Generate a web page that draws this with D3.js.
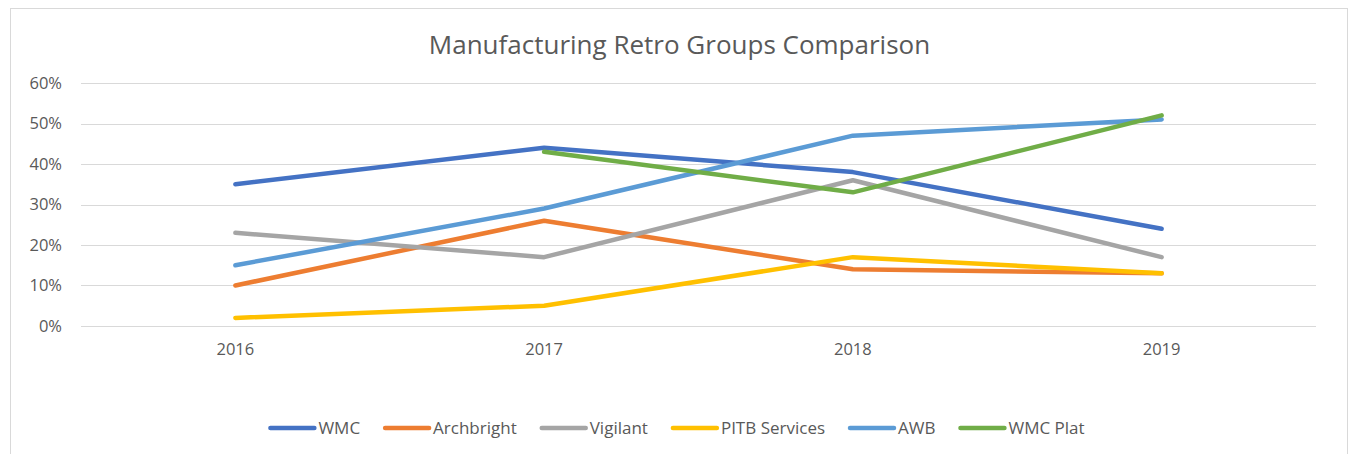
<!DOCTYPE html>
<html>
<head>
<meta charset="utf-8">
<script src="https://cdn.jsdelivr.net/npm/d3@7"></script>
<style>
  body { margin: 0; background: #fff; }
  svg text { font-family: "Open Sans", "Liberation Sans", sans-serif; fill: #595959; }
</style>
</head>
<body>
<div id="chart"></div>
<script>
// chart data
const years = ["2016", "2017", "2018", "2019"];
const seriesNames = ["WMC", "Archbright", "Vigilant", "PITB Services", "AWB", "WMC Plat"];
const wmc = [0.35, 0.44, 0.38, 0.24];
const archbright = [0.10, 0.26, 0.14, 0.13];
const vigilant = [0.23, 0.17, 0.36, 0.17];
const pitb = [0.02, 0.05, 0.17, 0.13];
const awb = [0.15, 0.29, 0.47, 0.51];
const wmcPlat = [null, 0.43, 0.33, 0.52];
const yTicks = [0, 0.1, 0.2, 0.3, 0.4, 0.5, 0.6];
const colors = ["#4472C4", "#ED7D31", "#A5A5A5", "#FFC000", "#5B9BD5", "#70AD47"];

const allSeries = [wmc, archbright, vigilant, pitb, awb, wmcPlat];

const W = 1349, H = 454;
const MARGIN = { TOP: 83, BOTTOM: 128, LEFT: 81, RIGHT: 33 };

const svg = d3.select("#chart").append("svg")
    .attr("width", W).attr("height", H);

// outer chart frame
svg.append("rect")
    .attr("x", 10.5).attr("y", 8.5)
    .attr("width", W - 12).attr("height", H + 10)
    .attr("fill", "none").attr("stroke", "#d9d9d9");

const x = d3.scaleBand()
    .domain(years)
    .range([MARGIN.LEFT, W - MARGIN.RIGHT]);

const y = d3.scaleLinear()
    .domain([0, 0.6])
    .range([H - MARGIN.BOTTOM, MARGIN.TOP]);

// gridlines
svg.append("g")
    .selectAll("line").data(yTicks).join("line")
    .attr("x1", MARGIN.LEFT).attr("x2", W - MARGIN.RIGHT)
    .attr("y1", d => Math.round(y(d)) + 0.5).attr("y2", d => Math.round(y(d)) + 0.5)
    .attr("stroke", "#d9d9d9").attr("stroke-width", 1);

// y axis labels
const yAxis = d3.axisLeft(y).tickValues(yTicks).tickFormat(d3.format(".0%")).tickSize(0).tickPadding(19);
svg.append("g")
    .attr("transform", `translate(${MARGIN.LEFT},0)`)
    .call(yAxis)
    .call(g => g.select(".domain").remove())
    .selectAll("text")
    .style("font-size", "16.5px");

// x axis labels
const xAxis = d3.axisBottom(x).tickSize(0).tickPadding(17);
svg.append("g")
    .attr("transform", `translate(0,${H - MARGIN.BOTTOM})`)
    .call(xAxis)
    .call(g => g.select(".domain").remove())
    .selectAll("text")
    .style("font-size", "16.5px");

// lines
const line = d3.line()
    .defined(d => d != null)
    .x((d, i) => x(years[i]) + x.bandwidth() / 2)
    .y(d => y(d));

svg.append("g")
    .selectAll("path").data(allSeries).join("path")
    .attr("d", d => line(d))
    .attr("fill", "none")
    .attr("stroke", (d, i) => colors[i])
    .attr("stroke-width", 4.5)
    .attr("stroke-linecap", "round")
    .attr("stroke-linejoin", "round");

// title
svg.append("text")
    .attr("x", (10 + W) / 2).attr("y", 54)
    .attr("text-anchor", "middle")
    .style("font-size", "26px")
    .text("Manufacturing Retro Groups Comparison");

// legend
const legend = svg.append("g");
const LEG_Y = 428, LINE_LEN = 44, GAP = 25;
let cx = 0;
seriesNames.forEach((name, i) => {
    const item = legend.append("g").attr("transform", `translate(${cx},0)`);
    item.append("line")
        .attr("x1", 0).attr("x2", LINE_LEN)
        .attr("y1", LEG_Y).attr("y2", LEG_Y)
        .attr("stroke", colors[i]).attr("stroke-width", 4.5)
        .attr("stroke-linecap", "round");
    const t = item.append("text")
        .attr("x", LINE_LEN + 4).attr("y", LEG_Y + 6)
        .style("font-size", "17px")
        .text(name);
    cx += LINE_LEN + 4 + t.node().getComputedTextLength() + GAP;
});
const legW = cx - GAP;
legend.attr("transform", `translate(${(10 + W) / 2 - legW / 2 - 2},0)`);
</script>
</body>
</html>
